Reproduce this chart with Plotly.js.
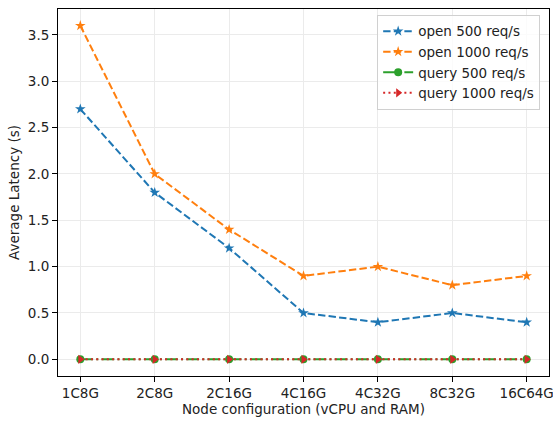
<!DOCTYPE html>
<html>
<head>
<meta charset="utf-8">
<script src="https://cdn.plot.ly/plotly-3.0.1.min.js"></script>
<style>html,body{margin:0;padding:0;background:#fff}#chart{width:553px;height:421px}</style>
</head>
<body>
<div id="chart"></div>
<script>
const configs = ["1C8G", "2C8G", "2C16G", "4C16G", "4C32G", "8C32G", "16C64G"];
const open500 = [2.7, 1.8, 1.2, 0.5, 0.4, 0.5, 0.4];
const open1000 = [3.6, 2.0, 1.4, 0.9, 1.0, 0.8, 0.9];
const query500 = [0.0, 0.0, 0.0, 0.0, 0.0, 0.0, 0.0];
const query1000 = [0.0, 0.0, 0.0, 0.0, 0.0, 0.0, 0.0];
const yTicks = [0, 0.5, 1.0, 1.5, 2.0, 2.5, 3.0, 3.5];

const idx = configs.map((_, i) => i);
const font = {family: "DejaVu Sans, sans-serif", size: 13.5, color: "#222"};

const traces = [
  {x: idx, y: open500, name: "open 500 req/s", mode: "lines+markers",
   line: {color: "#1f77b4", width: 2, dash: "7.4px,3.2px"},
   marker: {symbol: "star", size: 8, color: "#1f77b4"}},
  {x: idx, y: open1000, name: "open 1000 req/s", mode: "lines+markers",
   line: {color: "#ff7f0e", width: 2, dash: "7.4px,3.2px"},
   marker: {symbol: "star", size: 8, color: "#ff7f0e"}},
  {x: idx, y: query500, name: "query 500 req/s", mode: "lines+markers",
   line: {color: "#2ca02c", width: 2, dash: "12.8px,3.2px,2px,3.2px"},
   marker: {symbol: "circle", size: 8, color: "#2ca02c"}},
  {x: idx, y: query1000, name: "query 1000 req/s", mode: "lines+markers",
   line: {color: "#d62728", width: 2, dash: "2px,3.3px"},
   marker: {symbol: "triangle-right", size: 8, color: "#d62728"}}
];

const layout = {
  width: 553, height: 421,
  margin: {l: 58, r: 4, t: 9, b: 45},
  paper_bgcolor: "#fff", plot_bgcolor: "#fff",
  font: font,
  showlegend: true,
  legend: {x: 0.982, y: 0.984, xanchor: "right", yanchor: "top",
           bgcolor: "rgba(255,255,255,0.8)", bordercolor: "#d0d0d0", borderwidth: 1,
           font: font,
           tracegroupgap: 2},
  xaxis: {
    range: [-0.3, 6.3],
    tickmode: "array", tickvals: idx, ticktext: configs,
    ticklabeloverflow: "allow",
    showgrid: true, gridcolor: "#ebebeb", gridwidth: 1,
    zeroline: false,
    showline: true, mirror: true, linecolor: "#000", linewidth: 1,
    ticks: "outside", ticklen: 5, tickcolor: "#000", tickwidth: 1,
    tickfont: font,
    title: {text: "Node configuration (vCPU and RAM)", font: font, standoff: 4}
  },
  yaxis: {
    range: [-0.18, 3.78],
    tickmode: "array", tickvals: yTicks, ticktext: yTicks.map(v => v.toFixed(1)),
    showgrid: true, gridcolor: "#ebebeb", gridwidth: 1,
    zeroline: false,
    showline: true, mirror: true, linecolor: "#000", linewidth: 1,
    ticks: "outside", ticklen: 5, tickcolor: "#000", tickwidth: 1,
    tickfont: font,
    title: {text: "Average Latency (s)", font: font, standoff: 5}
  }
};

Plotly.newPlot("chart", traces, layout, {displayModeBar: false, staticPlot: true});
</script>
</body>
</html>
